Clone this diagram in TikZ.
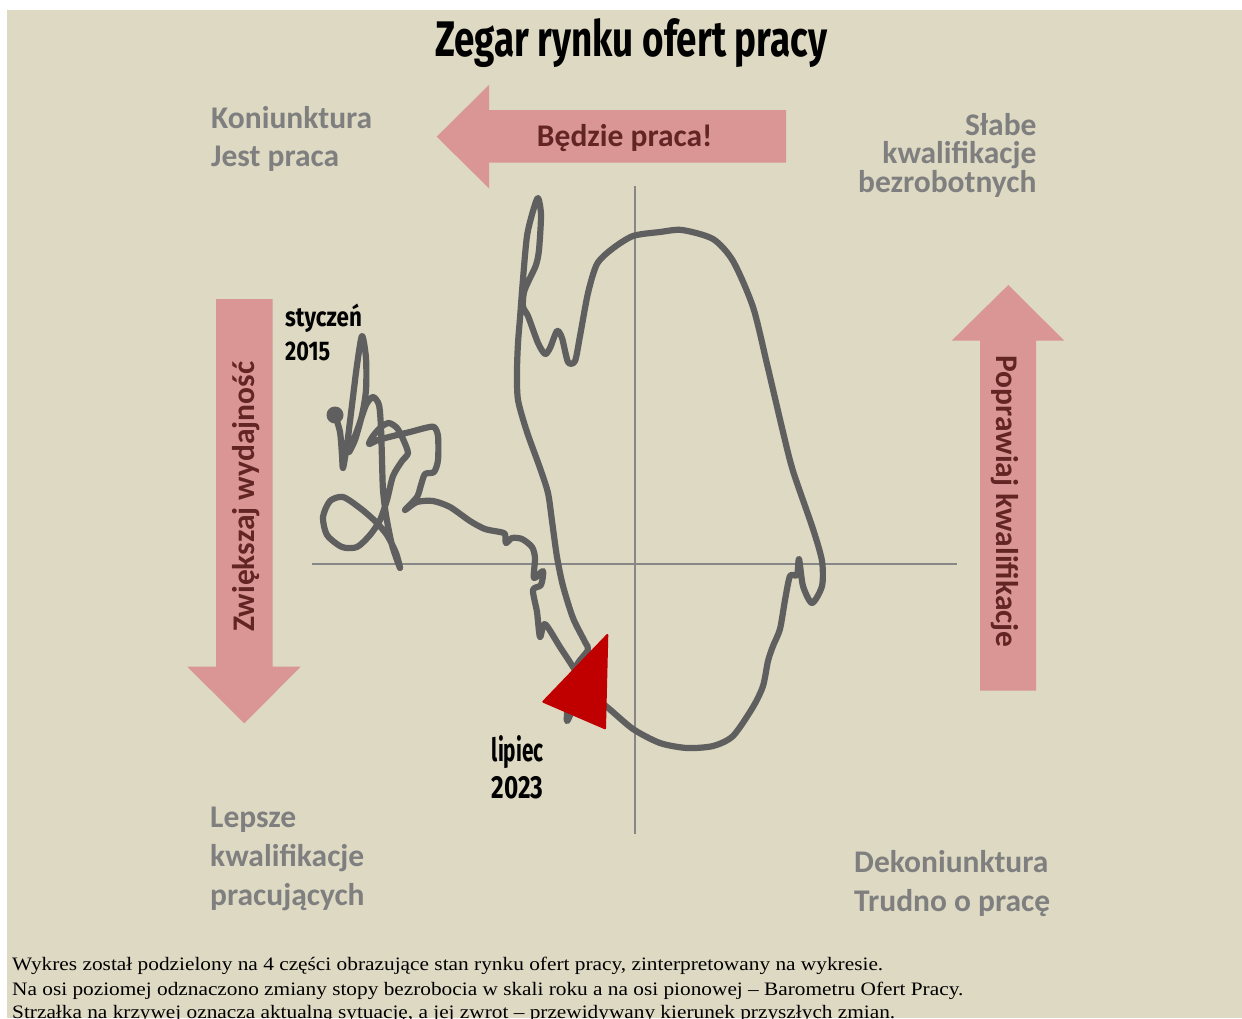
\documentclass[tikz,border=0pt]{standalone}
\usepackage{fontspec}
\usepackage{graphicx}
\setmainfont{Liberation Serif}
\newfontfamily\calibf{Carlito}
\newfontfamily\condf{Fira Sans}
\definecolor{bgtan}{HTML}{DDD9C3}
\definecolor{pinkarr}{HTML}{D99694}
\definecolor{darkred}{HTML}{632523}
\definecolor{greytxt}{HTML}{7F7F7F}
\definecolor{curvegrey}{HTML}{5F5F5F}
\definecolor{axisgrey}{HTML}{878787}
\definecolor{arrred}{HTML}{C00000}
\newcommand{\fitw}[2]{\resizebox{#1}{\height}{#2}}
\tikzset{
  quadtxt/.style={text=greytxt, font=\calibf\bfseries\fontsize{31.5}{39}\selectfont, inner sep=0pt},
  arrtxt/.style={text=darkred, font=\calibf\bfseries\fontsize{31.5}{39}\selectfont, inner sep=0pt},
  blockarrow/.style={fill=pinkarr, draw=none},
  axisline/.style={draw=axisgrey, line width=1.8pt},
  curveline/.style={draw=curvegrey, line width=6.2pt, line cap=round, line join=round},
  datelbl/.style={text=black, inner sep=0pt, anchor=base west},
  notetxt/.style={text=black, inner sep=0pt, anchor=base west, font=\fontsize{19}{22}\selectfont},
}
\begin{document}
\begin{tikzpicture}[x=1pt,y=-1pt]
\useasboundingbox (0,0) rectangle (1242,1018);
\fill[white] (0,0) rectangle (1242,1018);
\fill[bgtan] (7,10) rectangle (1242,1018);

% title
\node[inner sep=0pt, anchor=base west] (title) at (435,56.7)
  {\fitw{392pt}{\condf\bfseries\fontsize{50}{52}\selectfont Zegar rynku ofert pracy}};

% block arrows
\path[blockarrow] (786,110) -- (489,110) -- (489,85) -- (436.7,136.7) -- (489,188.3) -- (489,162.7) -- (786,162.7) -- cycle;
\path[blockarrow] (216,299) -- (272.7,299) -- (272.7,666.7) -- (300.7,666.7) -- (244.3,723.3) -- (187.3,666.7) -- (216,666.7) -- cycle;
\path[blockarrow] (980,690.7) -- (980,340.7) -- (951.7,340.7) -- (1008.3,285) -- (1064.3,340.7) -- (1036,340.7) -- (1036,690.7) -- cycle;

\node[arrtxt, anchor=base] (tbtxt) at (624.7,146.7) {Będzie praca!};
\node[arrtxt, anchor=base, rotate=90] (lbtxt) at (254,496.7) {Zwiększaj wydajność};
\node[arrtxt, anchor=base, rotate=-90] (rbtxt) at (996.7,501.7) {Poprawiaj kwalifikacje};

% axes
\coordinate (hl) at (312,564.3);
\coordinate (hr) at (957,564.3);
\coordinate (vt) at (635,186);
\coordinate (vb) at (635,834);
\draw[axisline] (hl) -- (hr);
\draw[axisline] (vt) -- (vb);

% quadrant texts
\node[quadtxt, anchor=base west] (q1a) at (211,128.3) {Koniunktura};
\node[quadtxt, anchor=base west] (q1b) at (211,166.7) {Jest praca};
\node[quadtxt, anchor=base east] (q2a) at (1036.7,135) {Słabe};
\node[quadtxt, anchor=base east] (q2b) at (1036.7,163.7) {kwalifikacje};
\node[quadtxt, anchor=base east] (q2c) at (1036.7,192.7) {bezrobotnych};
\node[quadtxt, anchor=base west] (q3a) at (210,827.3) {Lepsze};
\node[quadtxt, anchor=base west] (q3b) at (210,866.7) {kwalifikacje};
\node[quadtxt, anchor=base west] (q3c) at (210,905.5) {pracujących};
\node[quadtxt, anchor=base west] (q4a) at (854,872.7) {Dekoniunktura};
\node[quadtxt, anchor=base west] (q4b) at (854,911.7) {Trudno o pracę};

% curve
\draw[curveline] plot[smooth, tension=0.45] coordinates {
(335,415) (340,432) (342,455) (343,468) (347,445) (352,405) (357,365) (362,336) (366,358) (366,390) (362,415) (355,440) (349,452) (358,428) (366,405) (373,397) (379,405) (381,428) (382,460) (383,490) (386,515) (392,545) (400,568) (396,553) (387,535) (375,521) (360,508) (343,497) (330,501) (323,517) (327,535) (342,547) (357,547) (370,535) (380,520) (387,500) (393,476) (402,461) (408,453) (403,439) (397,428) (389,423) (381,427) (373,436) (369,444) (378,440) (393,436) (410,432) (425,428) (434,427) (438,436) (438,460) (434,472) (425,474) (421,485) (417,497) (405,510) (417,502) (433,501) (450,507) (470,521) (485,529) (500,532) (505,534) (506,543) (512,538) (522,539) (532,547) (535,558) (534,578) (543,571) (541,585) (533,590) (537,612) (540,637) (545,624) (560,647) (573,667) (583,685) (575,703) (567,721) (569,695) (577,665) (588,650) (585,642) (573,618) (563,586) (557,557) (552,521) (548,493) (540,468) (527,432) (518,400) (517,371) (518,343) (520,318) (523,279) (527,236) (533,211) (538,198) (541,215) (539,250) (536,265) (530,278) (524,292) (523,307) (528,316) (538,343) (545,354) (550,348) (557,331) (562,338) (568,362) (575,361) (580,336) (588,293) (597,264) (612,249) (633,236) (660,232) (682,230) (713,239) (733,261) (753,307) (767,364) (783,432) (793,471) (813,529) (822,561) (822,586) (812,603) (803,586) (799,559) (797,575) (790,576) (785,600) (780,629) (773,646) (768,661) (763,686) (753,707) (733,736) (713,746) (687,748) (660,743) (633,729) (607,707) (590,695)};
\fill[curvegrey] (335,415) circle (8.5);
\fill[arrred, draw=arrred, line width=2pt, line join=round] (607.3,635) -- (543.3,701.7) -- (605,728.3) -- cycle;

% date labels
\node[datelbl] (d1a) at (285,326.7) {\fitw{76.7pt}{\condf\bfseries\fontsize{27}{30}\selectfont styczeń}};
\node[datelbl] (d1b) at (285,360) {\fitw{45pt}{\condf\bfseries\fontsize{27}{30}\selectfont 2015}};
\node[datelbl] (d2a) at (491.7,761.7) {\fitw{51.7pt}{\condf\bfseries\fontsize{32}{34}\selectfont lipiec}};
\node[datelbl] (d2b) at (491.7,798.3) {\fitw{51.7pt}{\condf\bfseries\fontsize{32}{34}\selectfont 2023}};

% notes
\node[notetxt] (n1) at (12,970.5) {\fitw{871pt}{Wykres został podzielony na 4 części obrazujące stan rynku ofert pracy, zinterpretowany na wykresie.}};
\node[notetxt] (n2) at (12,995) {\fitw{951pt}{Na osi poziomej odznaczono zmiany stopy bezrobocia w skali roku a na osi pionowej – Barometru Ofert Pracy.}};
\node[notetxt] (n3) at (12,1018) {\fitw{883pt}{Strzałka na krzywej oznacza aktualną sytuację, a jej zwrot – przewidywany kierunek przyszłych zmian.}};
\end{tikzpicture}
\end{document}
